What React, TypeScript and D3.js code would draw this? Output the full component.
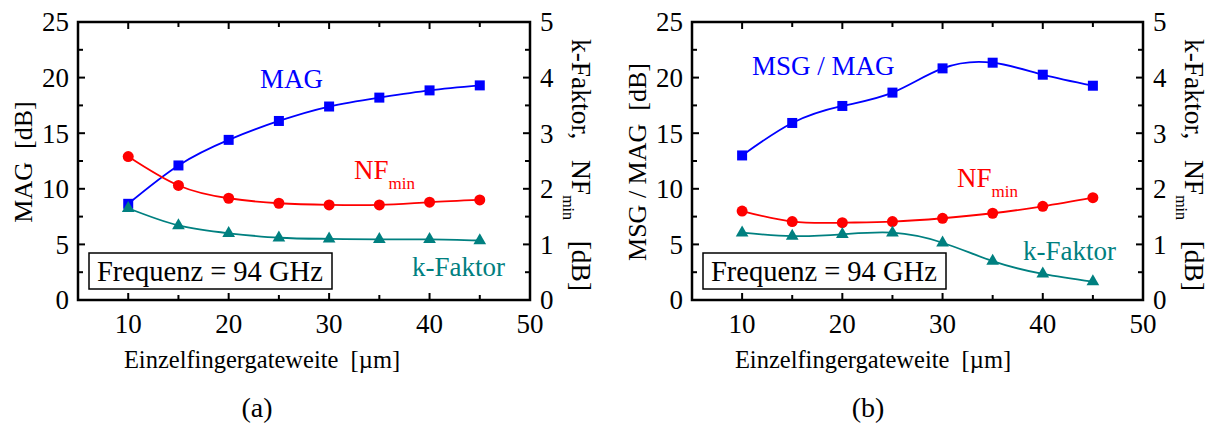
import * as d3 from "d3"

// gate widths in µm
const widths = [10, 15, 20, 25, 30, 35, 40, 45]

// panel (a)
const magA = [8.65, 12.1, 14.4, 16.1, 17.4, 18.2, 18.85, 19.3]
const nfA = [2.58, 2.06, 1.83, 1.74, 1.71, 1.71, 1.76, 1.8]
const kA = [1.65, 1.34, 1.2, 1.12, 1.1, 1.09, 1.09, 1.07]

// panel (b)
const msgB = [13.0, 15.92, 17.45, 18.65, 20.83, 21.34, 20.26, 19.27]
const nfB = [1.6, 1.41, 1.39, 1.41, 1.47, 1.56, 1.685, 1.84]
const kB = [1.21, 1.15, 1.18, 1.21, 1.03, 0.7, 0.47, 0.33]

const xTicks = [10, 20, 30, 40, 50]
const xMinor = [5, 15, 25, 35, 45]
const leftTicks = [0, 5, 10, 15, 20, 25]
const rightTicks = [0, 1, 2, 3, 4, 5]

const FONT = "Liberation Serif, DejaVu Serif, serif"
const BLUE = "#0000ff"
const RED = "#ff0000"
const TEAL = "#008080"

const top = 22
const bottom = 300

function Panel({ x0, x1, gain, nf, kf, yTitle, gainLabel, gainLabelPos, nfPos, kPos, xTitleX, caption }) {
    const x = d3.scaleLinear().domain([5, 50]).range([x0, x1])
    const yL = d3.scaleLinear().domain([0, 25]).range([bottom, top])
    const yR = d3.scaleLinear().domain([0, 5]).range([bottom, top])

    const lineL = d3.line().x((d, i) => x(widths[i])).y(d => yL(d)).curve(d3.curveNatural)
    const lineR = d3.line().x((d, i) => x(widths[i])).y(d => yR(d)).curve(d3.curveNatural)
    const tri = d3.symbol(d3.symbolTriangle, 70)()

    const minorY = d3.range(0, 25.01, 2.5)

    return (
        <g style={{ fontFamily: FONT }}>
            {/* series */}
            <path d={lineL(gain)} fill="none" stroke={BLUE} strokeWidth={1.8} />
            <path d={lineR(nf)} fill="none" stroke={RED} strokeWidth={1.8} />
            <path d={lineR(kf)} fill="none" stroke={TEAL} strokeWidth={1.8} />
            {gain.map((v, i) => (
                <rect key={'g' + i} x={x(widths[i]) - 5} y={yL(v) - 5} width={10} height={10} fill={BLUE} />
            ))}
            {nf.map((v, i) => (
                <circle key={'n' + i} cx={x(widths[i])} cy={yR(v)} r={5.5} fill={RED} />
            ))}
            {kf.map((v, i) => (
                <path key={'k' + i} d={tri} transform={`translate(${x(widths[i])},${yR(v)})`} fill={TEAL} />
            ))}

            {/* frame */}
            <rect x={x0} y={top} width={x1 - x0} height={bottom - top} fill="none" stroke="black" strokeWidth={2.5} />

            {/* y ticks, left and right */}
            {minorY.map((v, i) => {
                const len = i % 2 === 0 ? 7 : 5
                return (
                    <g key={'yt' + i} stroke="black" strokeWidth={2}>
                        <line x1={x0} x2={x0 + len} y1={yL(v)} y2={yL(v)} />
                        <line x1={x1} x2={x1 - len} y1={yL(v)} y2={yL(v)} />
                    </g>
                )
            })}
            {/* x ticks, top and bottom */}
            {[...xTicks, ...xMinor].map((v, i) => {
                const len = xTicks.includes(v) ? 7 : 5
                return (
                    <g key={'xt' + i} stroke="black" strokeWidth={2}>
                        <line x1={x(v)} x2={x(v)} y1={bottom} y2={bottom - len} />
                        <line x1={x(v)} x2={x(v)} y1={top} y2={top + len} />
                    </g>
                )
            })}

            {/* tick labels */}
            <g fontSize={27}>
                {leftTicks.map(v => (
                    <text key={'l' + v} x={x0 - 9} y={yL(v)} dy="0.35em" textAnchor="end">{v}</text>
                ))}
                {rightTicks.map(v => (
                    <text key={'r' + v} x={x1 + 10} y={yR(v)} dy="0.35em" textAnchor="start">{v}</text>
                ))}
                {xTicks.map(v => (
                    <text key={'x' + v} x={x(v)} y={333} textAnchor="middle">{v}</text>
                ))}
            </g>

            {/* axis titles */}
            <text fontSize={26} textAnchor="middle" style={{ whiteSpace: 'pre' }}
                transform={`translate(${x0 - 46},162) rotate(-90)`}>{yTitle}</text>
            <text fontSize={27.5} textAnchor="middle" style={{ whiteSpace: 'pre' }}
                transform={`translate(${x1 + 42},165) rotate(90)`}>
                k-Faktor,   NF<tspan fontSize={16} dy={9}>min</tspan><tspan dy={-9}>   [dB]</tspan>
            </text>
            <text fontSize={24.5} textAnchor="middle" x={xTitleX} y={368} style={{ whiteSpace: 'pre' }}>
                Einzelfingergateweite  [µm]
            </text>
            <text fontSize={28} textAnchor="middle" x={xTitleX - 5} y={417}>{caption}</text>

            {/* series labels */}
            <text fontSize={27} fill={BLUE} x={gainLabelPos[0]} y={gainLabelPos[1]}>{gainLabel}</text>
            <text fontSize={27} fill={RED} x={nfPos[0]} y={nfPos[1]}>
                NF<tspan fontSize={17} dy={10}>min</tspan>
            </text>
            <text fontSize={27} fill={TEAL} x={kPos[0]} y={kPos[1]}>k-Faktor</text>

            {/* frequency box */}
            <rect x={x0 + 11} y={253} width={243} height={36} fill="white" stroke="black" strokeWidth={1.5} />
            <text fontSize={28.5} x={x0 + 19} y={281}>Frequenz = 94 GHz</text>
        </g>
    )
}

export default function App() {
    return (
        <svg width={1216} height={425} viewBox="0 0 1216 425"
            style={{ position: 'absolute', left: 0, top: 0, background: 'white' }}>
            <rect width={1216} height={425} fill="white" />
            <Panel x0={78} x1={530} gain={magA} nf={nfA} kf={kA}
                yTitle="MAG  [dB]" gainLabel="MAG" gainLabelPos={[260, 88]}
                nfPos={[354, 179]} kPos={[412, 276]} xTitleX={262} caption="(a)" />
            <Panel x0={692} x1={1143} gain={msgB} nf={nfB} kf={kB}
                yTitle="MSG / MAG  [dB]" gainLabel="MSG / MAG" gainLabelPos={[752, 75]}
                nfPos={[957, 187]} kPos={[1023, 260]} xTitleX={873} caption="(b)" />
        </svg>
    )
}
